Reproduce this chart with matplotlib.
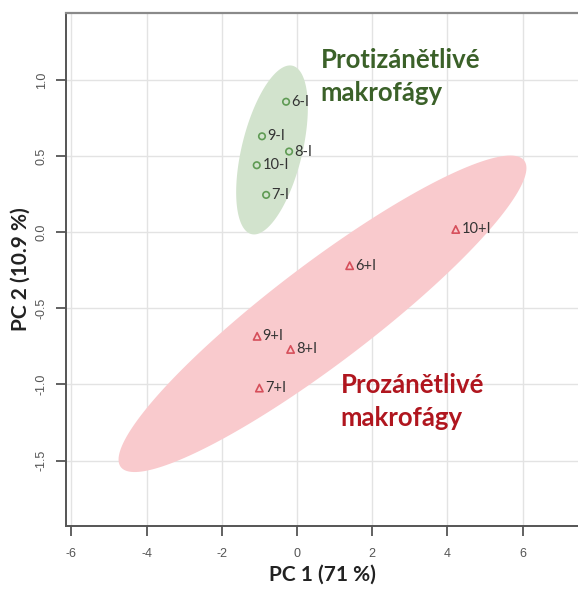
import numpy as np
import matplotlib.pyplot as plt

# PCA scores
anti_labels = ["6-I", "9-I", "8-I", "10-I", "7-I"]
anti_pc1 = [-0.29, -0.93, -0.21, -1.07, -0.82]
anti_pc2 = [0.857, 0.63, 0.53, 0.44, 0.245]

pro_labels = ["10+I", "6+I", "9+I", "8+I", "7+I"]
pro_pc1 = [4.22, 1.40, -1.06, -0.17, -1.00]
pro_pc2 = [0.018, -0.22, -0.684, -0.77, -1.024]

x_ticks = [-6, -4, -2, 0, 2, 4, 6]
y_ticks = [-1.5, -1.0, -0.5, 0.0, 0.5, 1.0]

green_fill = "#d2e3cd"
green_mark = "#5f9b54"
green_text = "#3b6129"
red_fill = "#f9cacd"
red_mark = "#d64f5b"
red_text = "#b0161f"


def conf_ellipse(x, y, level=0.95, n=200):
    # same as ellipse::ellipse(cov, centre, level) -> radius sqrt(qchisq(level, 2))
    x = np.asarray(x)
    y = np.asarray(y)
    cov = np.cov(x, y)
    r = np.sqrt(-2.0 * np.log(1.0 - level))
    vals, vecs = np.linalg.eigh(cov)
    t = np.linspace(0, 2 * np.pi, n)
    circ = np.vstack([np.cos(t), np.sin(t)]) * r
    pts = vecs @ (np.sqrt(vals)[:, None] * circ)
    return x.mean() + pts[0], y.mean() + pts[1]


fig = plt.figure(figsize=(5.78, 5.91), dpi=100)
ax = fig.add_axes([0.1142, 0.110, 0.8858, 0.868])

ax.set_xlim(-6.14, 7.47)
ax.set_ylim(-1.93, 1.44)

ax.set_xticks(x_ticks)
ax.set_yticks(y_ticks)
ax.set_xticklabels([f"{v:g}" for v in x_ticks])
ax.set_yticklabels([f"{v:.1f}" for v in y_ticks], rotation=90, va="center")
ax.grid(True, color="#e3e3e3", lw=1.0)
ax.set_axisbelow(True)

for s in ["left", "bottom"]:
    ax.spines[s].set_color("#555555")
    ax.spines[s].set_linewidth(1.4)
ax.spines["top"].set_color("#8a8a8a")
ax.spines["top"].set_linewidth(1.6)
ax.spines["right"].set_visible(False)

ax.tick_params(axis="both", direction="out", length=7, width=1.3,
               color="#555555", labelcolor="#555555", labelsize=9)
ax.tick_params(axis="x", pad=9)
ax.tick_params(axis="y", pad=6)
for lab in ax.get_xticklabels() + ax.get_yticklabels():
    lab.set_family("Liberation Sans")

ex, ey = conf_ellipse(anti_pc1, anti_pc2)
ax.fill(ex, ey, color=green_fill, lw=0, zorder=1)
ex, ey = conf_ellipse(pro_pc1, pro_pc2)
ax.fill(ex, ey, color=red_fill, lw=0, zorder=1)

ax.scatter(anti_pc1, anti_pc2, s=22, facecolors="none", edgecolors=green_mark,
           linewidths=1.2, marker="o", zorder=3)
ax.scatter(pro_pc1, pro_pc2, s=28, facecolors="none", edgecolors=red_mark,
           linewidths=1.2, marker="^", zorder=3)

for lab, x, y in zip(anti_labels + pro_labels, anti_pc1 + pro_pc1,
                     anti_pc2 + pro_pc2):
    ax.annotate(lab, (x, y), xytext=(4, 0), textcoords="offset points",
                va="center", ha="left", fontsize=10.5, color="#333333",
                family="Lato", zorder=4)

ax.text(0.63, 1.02, "Protizánětlivé\nmakrofágy", color=green_text,
        fontsize=18.5, fontweight="bold", family="Lato", ha="left",
        va="center", linespacing=1.45)
ax.text(1.16, -1.115, "Prozánětlivé\nmakrofágy", color=red_text,
        fontsize=18.5, fontweight="bold", family="Lato", ha="left",
        va="center", linespacing=1.45)

ax.set_xlabel("PC 1 (71 %)", fontsize=15, fontweight="bold", family="Lato",
              color="#222222", labelpad=3)
ax.set_ylabel("PC 2 (10.9 %)", fontsize=15, fontweight="bold", family="Lato",
              color="#222222", labelpad=4)

fig.savefig("out.png", dpi=100)
